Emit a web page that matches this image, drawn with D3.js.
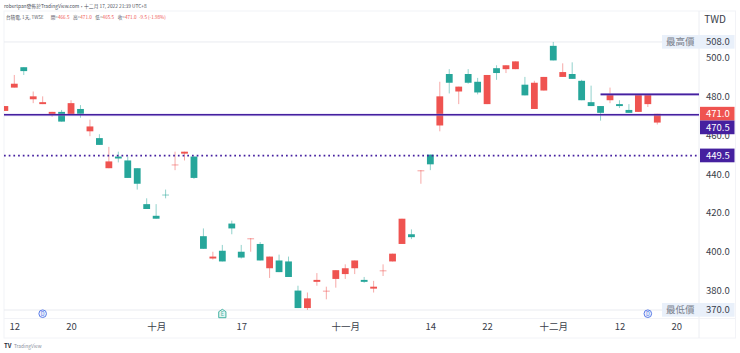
<!DOCTYPE html>
<html>
<head>
<meta charset="UTF-8">
<title>TWSE 2330</title>
<script src="https://d3js.org/d3.v7.min.js"></script>
<style>
  * { margin: 0; padding: 0; box-sizing: border-box; }
  body { background: #fff; overflow: hidden; font-family: "Noto Sans CJK TC", "Noto Sans", sans-serif; }
  text { font-family: "Noto Sans CJK TC", "Noto Sans", sans-serif; }
</style>
</head>
<body>
<div id="chart"></div>
<script>
  // trading days, 2022 (last two are empty future slots for the axis)
  const dates = ["09-09","09-12","09-13","09-14","09-15","09-16","09-19","09-20","09-21","09-22","09-23","09-26","09-27","09-28","09-29","09-30",
    "10-03","10-04","10-05","10-06","10-07","10-11","10-12","10-13","10-14","10-17","10-18","10-19","10-20","10-21","10-24","10-25","10-26","10-27","10-28","10-31",
    "11-01","11-02","11-03","11-04","11-07","11-08","11-09","11-10","11-11","11-14","11-15","11-16","11-17","11-18","11-21","11-22","11-23","11-24","11-25","11-28","11-29","11-30",
    "12-01","12-02","12-05","12-06","12-07","12-08","12-09","12-12","12-13","12-14","12-15","12-16","12-19","12-20"];

  const opens  = [472.5,484.5,495,478.5,476,470.5,472,470.5,473.5,462,458.5,443,449,447,443,424.5,418.5,429.5,444.5,450.5,449,408,396.5,400.5,414.5,400,406.5,404,391.5,395.5,395,380,371,384.5,379.5,386,388.5,391.5,385.5,381,390,395,404,409,441.5,450,465,491.5,482.5,491.5,487.5,476,494.5,494,494,486,473.5,483,506,490,491.5,488,477,475,478,476,473,472,476,466.5];
  const highs  = [475,491,495,482.5,480,472,473,478,475.5,468,460.5,454,451.5,449,443,427.5,424.5,432,451.5,451.5,449,412,400,403.5,416,403.5,407,405,397.5,398.5,397.5,382.5,379,389,382,390.5,393.5,395.5,387,385,393.5,399,417,411.5,442,450,487.5,494,485,494,489.5,491,496,496,498,490,488,490,508,497,497.5,488.5,485.5,475,484.5,478,476,481,481,471];
  const lows   = [472.5,484.5,491,476.5,476,469.5,467,470.5,469,459.5,455,443,446,438,432,422,417,427.5,442,447,437.5,401.5,396,395,409,396.5,400,395.5,386.5,389.5,387,371,370,382.5,375.5,381.5,386,388.5,384,379,387.5,395,404,406.5,435,442,462,481.5,476,486.5,481,476,488.5,492,494,480.5,473.5,483,498.5,490,489,478,475,467.5,476.5,474,471.5,472,474.5,465.5];
  const closes = [475,486.5,493,480,477,472,467,476.5,471,464.5,455,446.5,448,438,435,422,417,429,445,451.5,438,401.5,397.5,395,412,397,407,395.5,397.5,389.5,387,371,376,385.5,380,390.5,391.5,395.5,384.5,382,390.5,399,417,407.5,442,445,480,487,485,487,482,491,492,496,498,480.5,487,490,498.5,492.5,489,478,475,471.5,481,475,471.5,481,481,471];

  const yTicks = [380, 400, 420, 440, 460, 480, 500];
  const xTickDates = ["09-12","09-20","10-03","10-17","11-01","11-14","11-22","12-01","12-12","12-20"];
  const xTickLabels = ["12","20","十月","17","十一月","14","22","十二月","12","20"];

  const levelHigh = 508, levelLow = 370, lastPrice = 471, avgLine = 470.5, dotted = 449.5, shortLine = 481;

  const width = 740, height = 353;
  const frame = {left: 4, right: 735.5, top: 11, bottom: 338};
  const paneRight = 699;

  const upColor = "#ef5350", downColor = "#26a69a", lineColor = "#45209f";

  const svg = d3.select("#chart").append("svg").attr("width", width).attr("height", height);

  const x = d3.scalePoint().domain(dates).range([4.85, 676.2]);
  const y = d3.scaleLinear().domain([370, 500]).range([310, 57.5]);

  svg.append("defs").append("clipPath").attr("id", "pane")
    .append("rect").attr("x", frame.left).attr("y", frame.top)
    .attr("width", paneRight - frame.left).attr("height", frame.bottom - frame.top);

  // frame
  svg.append("rect").attr("x", frame.left).attr("y", frame.top)
    .attr("width", frame.right - frame.left).attr("height", frame.bottom - frame.top)
    .attr("fill", "none").attr("stroke", "#f2f3f7");
  svg.append("line").attr("x1", paneRight).attr("x2", paneRight)
    .attr("y1", frame.top).attr("y2", frame.bottom).attr("stroke", "#eceef3");
  svg.append("line").attr("x1", frame.left).attr("x2", frame.right)
    .attr("y1", 318.5).attr("y2", 318.5).attr("stroke", "#f2f3f7");

  // high / low reference lines
  [levelHigh, levelLow].forEach(v => {
    svg.append("line").attr("x1", frame.left).attr("x2", paneRight)
      .attr("y1", y(v)).attr("y2", y(v)).attr("stroke", "#e9ebf0");
  });

  const chart = svg.append("g").attr("clip-path", "url(#pane)");
  const bars = opens.map((o, i) => ({date: dates[i], o, h: highs[i], l: lows[i], c: closes[i]}));
  const bodyW = 6.8;

  chart.selectAll(".wick").data(bars).enter().append("line")
    .attr("class", "wick")
    .attr("x1", d => x(d.date)).attr("x2", d => x(d.date))
    .attr("y1", d => y(d.h)).attr("y2", d => y(d.l))
    .attr("stroke", d => d.c >= d.o ? upColor : downColor)
    .attr("stroke-opacity", 0.5)
    .attr("stroke-width", 1);

  chart.selectAll(".body").data(bars).enter().append("rect")
    .attr("class", "body")
    .attr("x", d => x(d.date) - bodyW / 2)
    .attr("width", bodyW)
    .attr("y", d => y(Math.max(d.o, d.c)))
    .attr("height", d => Math.max(1.2, Math.abs(y(d.o) - y(d.c))))
    .attr("fill", d => d.c >= d.o ? upColor : downColor)
    .attr("fill-opacity", d => Math.abs(d.o - d.c) <= 0.5 ? 0.45 : 1);

  // drawn lines, with a pale halo like the reference
  function hline(x1, v, dash) {
    if (!dash) {
      svg.append("line").attr("x1", x1).attr("x2", paneRight)
        .attr("y1", y(v)).attr("y2", y(v)).attr("stroke", "#b9a6e6").attr("stroke-width", 2.8).attr("stroke-opacity", 0.45);
    }
    const l = svg.append("line").attr("x1", x1).attr("x2", paneRight)
      .attr("y1", y(v)).attr("y2", y(v)).attr("stroke", lineColor).attr("stroke-width", dash ? 1.7 : 1.6);
    if (dash) l.attr("stroke-dasharray", dash);
  }
  hline(frame.left, avgLine);
  hline(x("12-08"), shortLine);
  hline(frame.left, dotted, "1.7 3");

  // price axis
  const yAxis = svg.append("g").attr("transform", `translate(${paneRight},0)`)
    .call(d3.axisRight(y).tickValues(yTicks).tickSize(0).tickPadding(6).tickFormat(d3.format(".1f")));
  yAxis.select(".domain").remove();
  yAxis.selectAll("text").attr("fill", "#3a3e4a").style("font-size", "9.5px").attr("x", 7);

  svg.append("text").attr("x", 704.3).attr("y", 22.5).attr("fill", "#3a3e4a")
    .style("font-size", "10px").text("TWD");

  // date axis
  const xAxis = svg.append("g").attr("transform", "translate(0,320)")
    .call(d3.axisBottom(x).tickValues(xTickDates).tickSize(0).tickPadding(3)
      .tickFormat(d => xTickLabels[xTickDates.indexOf(d)]));
  xAxis.select(".domain").remove();
  xAxis.selectAll("text").attr("fill", "#3a3e4a").style("font-size", "9.5px");

  // price tags
  function tag(value, yPos, bg, fg) {
    svg.append("rect").attr("x", paneRight + 1).attr("y", yPos - 7).attr("width", 34.5).attr("height", 13.7).attr("fill", bg);
    svg.append("text").attr("x", 706).attr("y", yPos + 3.4).attr("fill", fg)
      .style("font-size", "9.5px").text(value.toFixed(1));
  }
  tag(levelHigh, y(levelHigh), "#e9f0fa", "#3a3e4a");
  tag(lastPrice, y(lastPrice), upColor, "#fff");
  tag(avgLine, y(lastPrice) + 13.7, lineColor, "#fff");
  tag(dotted, y(dotted), lineColor, "#fff");
  tag(levelLow, y(levelLow), "#e9f0fa", "#3a3e4a");

  // 最高價 / 最低價 name tags
  [[levelHigh, "最高價"], [levelLow, "最低價"]].forEach(([v, t]) => {
    svg.append("rect").attr("x", 662).attr("y", y(v) - 7).attr("width", 38).attr("height", 13.7).attr("fill", "#e9f0fa");
    svg.append("text").attr("x", 666).attr("y", y(v) + 3.4).attr("fill", "#7a7f8c")
      .style("font-size", "9.5px").text(t);
  });

  // event markers on the time line
  function marker(date, color, label, house) {
    const g = svg.append("g").attr("transform", `translate(${x(date)},313.7)`);
    if (house) {
      g.append("path").attr("d", "M-3.6,-2 L0,-4.4 L3.6,-2 L3.6,4 L-3.6,4 Z").attr("fill", "#e4f4f1").attr("stroke", color);
    } else {
      g.append("circle").attr("r", 3.8).attr("fill", "#eef2fd").attr("stroke", color);
    }
    g.append("text").attr("text-anchor", "middle").attr("y", 2).attr("fill", color)
      .style("font-size", "5.5px").text(label);
  }
  marker("09-15", "#5c7ee8", "D", false);
  marker("10-13", "#45b3a3", "E", true);
  marker("12-15", "#5c7ee8", "D", false);

  // header
  svg.append("text").attr("x", 4).attr("y", 7.8).attr("fill", "#4a4e58").style("font-size", "4.8px")
    .text("robertpan發佈於TradingView.com，十二月 17, 2022 21:39 UTC+8");
  const legend = svg.append("g").style("font-size", "4.6px");
  function legendText(xPos, t, fill) {
    legend.append("text").attr("x", xPos).attr("y", 18.6).attr("fill", fill).text(t);
  }
  legendText(6, "台積電, 1天, TWSE", "#555a66");
  [["開=", "466.5", 50.7], ["高=", "471.0", 73], ["低=", "465.5", 95.3], ["收=", "471.0", 117.7]].forEach(([k, val, px]) => {
    legendText(px, k, "#555a66");
    legendText(px + 7.3, val, upColor);
  });
  legendText(139, "-9.5 (-1.98%)", upColor);

  // footer logo
  svg.append("text").attr("x", 4).attr("y", 348).attr("fill", "#2a2e39").style("font-size", "6px").style("font-weight", "bold").text("TV");
  svg.append("text").attr("x", 14).attr("y", 348).attr("fill", "#8a8f9c").style("font-size", "4.8px").text("TradingView");
</script>
</body>
</html>
